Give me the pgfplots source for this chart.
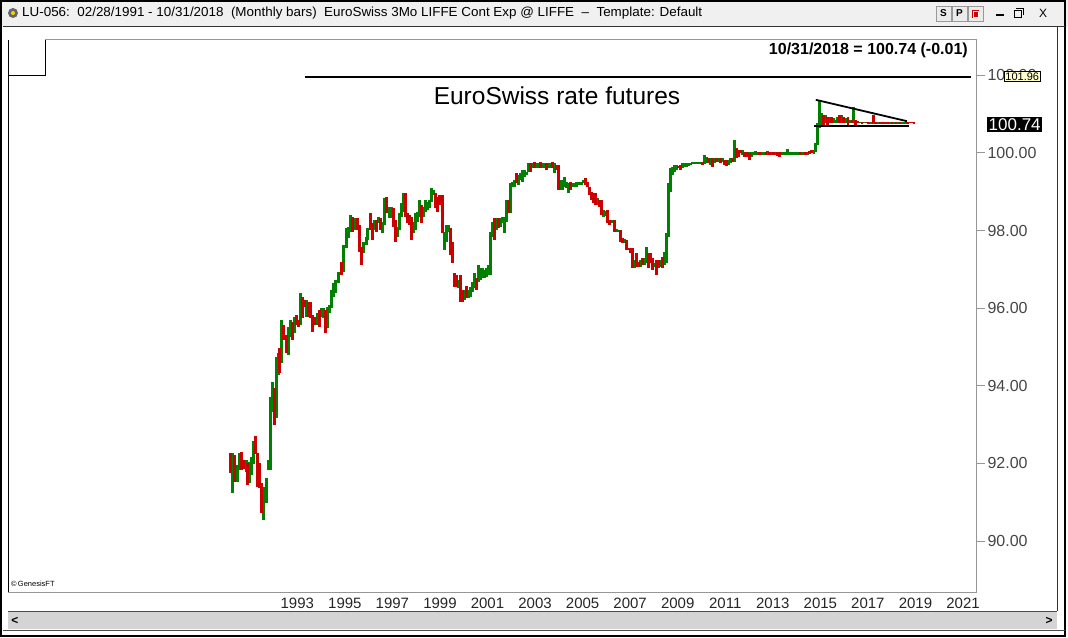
\documentclass[border=0pt]{standalone}
\usepackage{pgfplots}
\pgfplotsset{compat=1.18}
\usepackage{pgfplotstable}
\usepackage{graphicx}
\usepackage{fontspec}
\setmainfont{Liberation Sans}
\definecolor{barg}{RGB}{0,128,0}
\definecolor{barr}{RGB}{204,0,0}
\definecolor{axgray}{RGB}{150,150,150}
\definecolor{lblgray}{RGB}{70,70,70}
\definecolor{tbar}{RGB}{240,240,240}
\definecolor{scroll}{RGB}{212,212,212}
\definecolor{pricebox}{RGB}{255,255,204}

% up bars (green): x = year, hi, lo
\pgfplotstableread{
x hi lo
1990.26 92.268 91.237
1990.47 91.959 91.521
1990.56 92.268 91.830
1990.85 92.088 91.778
1990.98 92.036 91.495
1991.06 92.165 91.701
1991.15 92.577 91.985
1991.57 91.392 90.541
1991.69 91.624 90.979
1991.78 92.088 91.830
1991.86 93.711 91.830
1991.95 94.098 93.325
1992.12 94.742 93.170
1992.20 94.845 94.278
1992.33 95.696 94.588
1992.62 95.515 94.794
1992.71 95.696 95.258
1992.87 95.773 95.361
1993.13 96.392 95.567
1993.38 96.211 95.773
1993.84 95.876 95.567
1994.01 96.005 95.773
1994.09 96.005 95.747
1994.26 96.031 95.490
1994.35 96.082 95.876
1994.43 96.469 96.005
1994.52 96.649 96.289
1994.60 96.727 96.392
1994.73 96.933 96.649
1994.94 97.629 96.933
1995.06 98.067 97.552
1995.15 98.093 97.809
1995.23 98.402 97.964
1995.40 98.325 98.015
1995.78 97.706 97.423
1995.91 97.835 97.629
1995.95 98.067 97.758
1996.24 98.273 98.015
1996.41 98.351 98.196
1996.58 98.222 97.938
1996.66 98.840 98.144
1996.87 98.608 98.325
1996.96 98.608 98.325
1997.21 98.093 97.835
1997.29 98.454 98.015
1997.38 98.711 98.351
1997.46 98.969 98.479
1997.88 98.222 97.938
1997.97 98.454 98.015
1998.05 98.479 98.222
1998.14 98.789 98.351
1998.31 98.608 98.351
1998.39 98.789 98.479
1998.47 98.737 98.531
1998.56 98.789 98.582
1998.64 99.098 98.737
1998.73 99.046 98.918
1999.19 97.964 97.500
1999.27 98.144 97.706
1999.36 98.144 97.964
1999.78 96.727 96.521
2000.03 96.469 96.211
2000.20 96.469 96.263
2000.28 96.546 96.289
2000.37 96.675 96.418
2000.45 96.907 96.521
2000.62 97.113 96.675
2000.71 97.036 96.727
2000.79 97.036 96.778
2000.87 96.985 96.778
2000.96 97.036 96.804
2001.04 97.113 96.856
2001.13 97.964 96.856
2001.21 98.222 97.835
2001.38 98.325 98.015
2001.55 98.325 98.093
2001.63 98.351 98.196
2001.72 98.351 97.938
2001.80 98.789 98.222
2001.97 99.227 98.454
2002.05 99.253 99.124
2002.14 99.304 99.124
2002.31 99.433 99.175
2002.39 99.485 99.304
2002.47 99.562 99.253
2002.56 99.562 99.381
2002.64 99.510 99.433
2002.73 99.742 99.510
2002.89 99.742 99.613
2003.06 99.742 99.613
2003.15 99.742 99.613
2003.32 99.742 99.613
2003.40 99.742 99.613
2003.57 99.742 99.613
2003.65 99.742 99.613
2003.82 99.742 99.485
2004.07 99.304 99.046
2004.16 99.304 99.046
2004.24 99.381 99.124
2004.33 99.253 99.098
2004.41 99.227 98.969
2004.58 99.227 99.124
2004.66 99.227 99.124
2004.75 99.253 99.124
2004.83 99.253 99.175
2004.96 99.253 99.175
2005.04 99.304 99.227
2005.63 98.840 98.660
2005.88 98.531 98.351
2005.97 98.505 98.376
2006.22 98.273 98.196
2006.43 98.041 97.964
2006.52 98.015 97.964
2006.77 97.784 97.680
2007.19 97.242 97.036
2007.44 97.242 97.062
2007.61 97.294 97.113
2007.69 97.577 97.165
2008.03 97.165 97.062
2008.28 97.242 97.062
2008.45 97.448 97.113
2008.54 97.938 97.165
2008.62 99.227 97.835
2008.71 99.613 98.995
2008.79 99.639 99.433
2008.87 99.691 99.510
2008.96 99.691 99.562
2009.21 99.742 99.613
2009.29 99.742 99.639
2009.38 99.742 99.639
2009.46 99.742 99.665
2009.55 99.742 99.691
2009.63 99.768 99.716
2009.71 99.768 99.716
2009.84 99.768 99.716
2009.93 99.768 99.716
2010.14 99.948 99.716
2010.22 99.897 99.742
2010.39 99.871 99.691
2010.56 99.871 99.742
2010.73 99.871 99.768
2010.89 99.871 99.768
2011.15 99.820 99.691
2011.23 99.871 99.742
2011.40 100.335 99.768
2011.74 100.077 99.948
2011.99 100.026 99.897
2012.12 100.026 99.897
2012.20 100.026 99.948
2012.28 100.052 99.948
2012.37 100.026 99.948
2012.54 100.026 99.948
2012.62 100.026 99.948
2012.79 100.052 99.948
2012.96 100.026 99.948
2013.13 100.026 99.948
2013.38 100.026 99.948
2013.46 100.026 99.948
2013.55 100.026 99.948
2013.63 100.103 99.948
2013.72 100.026 99.948
2013.80 100.026 99.948
2013.88 100.026 99.948
2013.97 100.026 99.948
2014.05 100.026 99.948
2014.22 100.026 99.948
2014.31 100.026 99.948
2014.47 100.026 99.948
2014.73 100.077 99.974
2014.81 100.258 100.026
2014.89 100.773 100.206
2014.97 101.366 100.644
2015.06 101.031 100.670
2015.23 100.979 100.773
2015.40 100.928 100.773
2015.57 100.902 100.773
2015.65 100.851 100.773
2015.73 100.928 100.773
2015.90 100.979 100.773
2016.07 100.902 100.773
2016.24 100.851 100.773
2016.41 101.186 100.773
2016.66 100.799 100.773
2016.83 100.799 100.773
2017.08 100.799 100.747
2017.17 100.799 100.747
2017.42 100.799 100.747
2017.59 100.799 100.747
2017.76 100.799 100.747
2017.93 100.799 100.747
2018.09 100.799 100.747
2018.26 100.799 100.747
2018.43 100.799 100.747
2018.52 100.799 100.747
2018.60 100.799 100.747
2018.77 100.799 100.773
}\greenbars

% down bars (red): x = year, hi, lo
\pgfplotstableread{
x hi lo
1990.18 92.268 91.753
1990.35 92.216 91.521
1990.64 92.294 91.830
1990.73 92.088 91.856
1990.89 92.010 91.443
1991.23 92.706 92.242
1991.32 92.268 91.392
1991.40 92.010 91.366
1991.48 91.495 90.722
1992.03 93.943 92.990
1992.24 94.974 94.330
1992.41 95.567 95.180
1992.54 95.309 94.845
1992.79 95.644 95.180
1992.96 95.825 95.567
1993.04 95.696 95.515
1993.21 96.289 95.747
1993.29 96.211 96.031
1993.46 96.160 95.773
1993.55 96.160 95.747
1993.63 95.825 95.387
1993.72 95.773 95.567
1993.93 95.954 95.515
1994.18 95.954 95.361
1994.85 97.191 96.856
1995.32 98.351 97.964
1995.53 98.325 98.015
1995.61 98.144 97.448
1995.69 97.577 97.113
1996.07 98.454 98.015
1996.16 98.196 97.758
1996.33 98.273 97.964
1996.49 98.325 98.015
1996.75 98.866 98.454
1997.04 98.582 98.093
1997.13 98.273 97.706
1997.55 98.969 98.351
1997.63 98.454 98.196
1997.72 98.402 98.144
1997.80 98.351 97.758
1998.22 98.660 98.196
1998.81 98.969 98.582
1998.89 98.866 98.479
1998.98 98.918 98.660
1999.11 98.918 97.938
1999.44 98.067 97.371
1999.53 97.706 97.165
1999.61 96.907 96.546
1999.69 96.856 96.546
1999.86 96.856 96.160
1999.95 96.469 96.160
2000.12 96.572 96.263
2000.54 96.778 96.469
2001.29 98.325 97.758
2001.46 98.325 98.067
2001.88 98.789 98.454
2002.22 99.485 99.227
2002.81 99.742 99.510
2002.98 99.768 99.613
2003.23 99.768 99.613
2003.48 99.742 99.562
2003.74 99.768 99.613
2003.91 99.691 99.562
2003.99 99.691 99.046
2004.49 99.253 99.046
2005.13 99.356 99.175
2005.21 99.253 99.124
2005.29 99.124 98.918
2005.38 98.995 98.789
2005.46 98.969 98.711
2005.55 98.969 98.660
2005.72 98.789 98.608
2005.80 98.789 98.402
2006.05 98.531 98.196
2006.14 98.273 98.144
2006.35 98.273 97.964
2006.60 98.015 97.706
2006.68 97.809 97.680
2006.85 97.758 97.500
2006.94 97.552 97.500
2007.02 97.552 97.423
2007.11 97.552 97.036
2007.27 97.423 97.062
2007.36 97.191 97.062
2007.53 97.294 97.113
2007.78 97.423 97.036
2007.86 97.423 97.165
2007.95 97.294 96.985
2008.12 97.242 96.856
2008.20 97.242 97.036
2008.37 97.320 97.036
2009.04 99.665 99.613
2009.13 99.691 99.562
2010.05 99.768 99.691
2010.31 99.871 99.742
2010.47 99.871 99.639
2010.64 99.871 99.768
2010.81 99.871 99.742
2010.98 99.820 99.691
2011.06 99.820 99.665
2011.32 99.871 99.768
2011.48 100.129 99.871
2011.57 100.077 99.897
2011.65 100.077 100.000
2011.82 100.026 99.897
2011.91 100.026 99.897
2012.03 100.000 99.820
2012.45 100.026 99.948
2012.71 100.026 99.948
2012.87 100.026 99.948
2013.04 100.026 99.948
2013.21 100.026 99.923
2013.29 100.026 99.897
2014.14 100.026 99.948
2014.39 100.026 99.948
2014.56 100.052 99.974
2014.64 100.077 100.000
2015.14 100.979 100.670
2015.31 100.928 100.722
2015.48 100.928 100.773
2015.82 100.979 100.773
2015.99 100.928 100.773
2016.16 100.928 100.722
2016.33 100.851 100.773
2016.49 100.851 100.722
2016.58 100.825 100.773
2016.75 100.799 100.747
2016.92 100.799 100.773
2017.00 100.799 100.747
2017.25 100.979 100.747
2017.34 100.799 100.747
2017.51 100.799 100.747
2017.67 100.799 100.747
2017.84 100.799 100.747
2018.01 100.799 100.747
2018.18 100.799 100.747
2018.35 100.799 100.747
2018.68 100.799 100.747
2018.85 100.799 100.773
2018.94 100.799 100.747
}\redbars

\begin{document}
\begin{tikzpicture}
% ---------- window chrome (pixel coordinates, y downwards) ----------
\begin{scope}[x=1bp,y=-1bp]
  \fill[white] (0,0) rectangle (1068,638);
  \fill[tbar] (0,0) rectangle (1068,27);
  \fill[black!60] (13,13) circle (5);
  \fill[yellow!70!orange] (13,13) circle (2);
  \node[anchor=west,inner sep=0] at (22,13.5)
    {\resizebox{680bp}{9.5bp}{LU-056:\ \ 02/28/1991 - 10/31/2018\ \ (Monthly bars)\ \ EuroSwiss 3Mo LIFFE Cont Exp @ LIFFE\ \ --\ \ Template: Default}};
  % title bar buttons
  \foreach \bx/\bl in {936/S,952/P}{
    \draw[black!40,fill=black!8] (\bx,6) rectangle (\bx+15,21);
    \node[font=\fontsize{10bp}{12bp}\selectfont\bfseries] at (\bx+7.5,13.5) {\bl};
  }
  \draw[black!40,fill=black!8] (968,6) rectangle (983,21);
  \fill[red!80!black] (972,10) rectangle (979,18);
  \draw[white] (973,11) rectangle (978,17);
  \draw[black,line width=1.2bp] (996,15) -- (1004,15);
  \draw[black] (1014,10) rectangle (1021,17) (1016,8) -- (1023,8) -- (1023,15);
  \node[font=\fontsize{12bp}{14bp}\selectfont] at (1043,13.5) {X};
  % outer border
  \draw[black,line width=2bp] (1,1) rectangle (1065,636);
  \draw[black!80,line width=1bp] (1057,27) -- (1057,611);
  \draw[black!80,line width=1bp] (3,27) -- (1065,27);
  % left notch box and plot frame
  \draw[black,line width=1bp] (8,40) -- (8,592);
  \draw[black,line width=1bp] (8,76) -- (45,76) -- (45,40);
  \draw[axgray,line width=1bp] (45,40) -- (976,40) -- (976,592) -- (8,592);
  % scrollbar
  \fill[scroll] (8,612) rectangle (1057,629);
  \draw[black!70] (8,611.5) -- (1057,611.5);
  \draw[black!70] (3,630) -- (1065,630);
  \node[font=\fontsize{12bp}{14bp}\selectfont\bfseries] at (15,620.5) {\textless};
  \node[font=\fontsize{12bp}{14bp}\selectfont\bfseries] at (1049,620.5) {\textgreater};
  % texts
  \node[anchor=east,font=\fontsize{16bp}{19bp}\selectfont\bfseries,inner sep=0] at (968,50) {10/31/2018 = 100.74 (-0.01)};
  \node[font=\fontsize{24.5bp}{29bp}\selectfont,inner sep=0] at (557,96) {EuroSwiss rate futures};
  \node[anchor=west,font=\fontsize{7.5bp}{9bp}\selectfont,inner sep=0] at (11,584) {\textcopyright\,GenesisFT};
\end{scope}

\begin{axis}[
  at={(8bp,-592bp)}, anchor=south west,
  scale only axis, width=968bp, height=552bp,
  xmin=1980.832, xmax=2021.547, ymin=88.686, ymax=102.912,
  axis line style={draw=none},
  /pgf/number format/assume math mode=true,
  xtick={1993,1995,...,2021},
  xtick pos=bottom,
  xtick style={draw=none},
  x tick label style={/pgf/number format/1000 sep={}, font=\fontsize{15bp}{18bp}\selectfont, text=black!85, yshift=7bp},
  ytick={90,92,...,102},
  ytick pos=right,
  yticklabel pos=right,
  tick align=outside,
  major tick length=9bp,
  y tick style={axgray, line width=1bp},
  y tick label style={/pgf/number format/.cd, fixed, fixed zerofill, precision=2, /tikz/.cd, font=\fontsize{16bp}{19bp}\selectfont, text=lblgray, xshift=-1bp},
]
\addplot[draw=none, mark=none, forget plot,
  error bars/.cd, y dir=minus, y explicit, error mark=none,
  error bar style={draw=barg, line width=2.8bp}]
  table[x=x, y=hi, y error expr=\thisrow{hi}-\thisrow{lo}] {\greenbars};
\addplot[draw=none, mark=none, forget plot,
  error bars/.cd, y dir=minus, y explicit, error mark=none,
  error bar style={draw=barr, line width=2.8bp}]
  table[x=x, y=hi, y error expr=\thisrow{hi}-\thisrow{lo}] {\redbars};
% horizontal reference line at 101.96
\addplot[black, line width=1.2bp, forget plot] coordinates {(1993.34,101.96) (2021.34,101.96)};
% triangle
\addplot[black, line width=1.8bp, forget plot] coordinates {(2014.81,101.37) (2018.64,100.82)};
\addplot[black, line width=1.8bp, forget plot] coordinates {(2014.73,100.70) (2018.73,100.70)};
\end{axis}

\begin{scope}[x=1bp,y=-1bp]
  % price flags on the right axis
  \node[fill=pricebox,draw=black,line width=0.5bp,inner sep=1.2bp,anchor=west,font=\fontsize{11bp}{13bp}\selectfont] at (1004,76.5) {101.96};
  \node[fill=black,text=white,inner sep=1.5bp,anchor=west,font=\fontsize{17bp}{20bp}\selectfont] at (987,124.5) {100.74};
  \path[use as bounding box] (0,0) rectangle (1068,638);
\end{scope}
\end{tikzpicture}
\end{document}
